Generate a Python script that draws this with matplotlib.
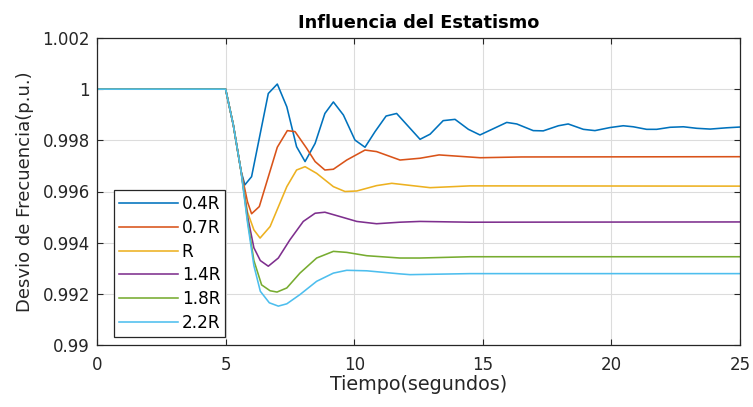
import matplotlib
matplotlib.use("Agg")
import matplotlib.pyplot as plt

plt.rcParams['font.family'] = ['DejaVu Sans']

# Frequency deviation for several droop settings
t_04 = [0, 5.0, 5.3, 5.6, 5.75, 6.01, 6.66, 7.01, 7.38, 7.76, 8.09, 8.48, 8.86, 9.19, 9.58,
        10.03, 10.42, 10.81, 11.24, 11.65, 12.56, 12.95, 13.46, 13.92, 14.44, 14.89, 15.93,
        16.32, 16.96, 17.35, 17.94, 18.32, 18.91, 19.36, 19.95, 20.46, 20.85, 21.37, 21.76,
        22.28, 22.80, 23.32, 23.84, 24.48, 25.0]
f_04 = [1.0, 1.0, 0.9986, 0.9968, 0.99626, 0.99658, 0.99983, 1.0002, 0.99931, 0.99775,
        0.99717, 0.99788, 0.99905, 0.9995, 0.99899, 0.99801, 0.99773, 0.99834, 0.99895,
        0.99905, 0.99804, 0.99824, 0.99877, 0.99882, 0.99843, 0.99821, 0.9987, 0.99864,
        0.99838, 0.99837, 0.99857, 0.99864, 0.99843, 0.99838, 0.9985, 0.99857, 0.99853,
        0.99843, 0.99843, 0.99851, 0.99853, 0.99847, 0.99844, 0.99849, 0.99852]

t_07 = [0, 5.0, 5.3, 5.6, 5.85, 6.01, 6.31, 7.01, 7.40, 7.70, 8.15, 8.48, 8.86, 9.19, 9.71,
        10.42, 10.87, 11.78, 12.56, 13.3, 14.9, 16.5, 25]
f_07 = [1.0, 1.0, 0.9986, 0.9968, 0.9956, 0.99513, 0.99541, 0.99773, 0.99838, 0.99834,
        0.99769, 0.99717, 0.99684, 0.99687, 0.99723, 0.99762, 0.99756, 0.99723, 0.9973,
        0.99743, 0.99732, 0.99735, 0.99736]

t_10 = [0, 5.0, 5.3, 5.6, 5.85, 6.1, 6.34, 6.73, 7.38, 7.76, 8.09, 8.54, 9.19, 9.64, 10.1,
        10.87, 11.46, 12.95, 14.5, 25]
f_10 = [1.0, 1.0, 0.9986, 0.9968, 0.9952, 0.9945, 0.99418, 0.99463, 0.99619, 0.99684,
        0.99697, 0.99671, 0.99619, 0.996, 0.99602, 0.99623, 0.99632, 0.99615, 0.99622, 0.99621]

t_14 = [0, 5.0, 5.3, 5.6, 5.85, 6.1, 6.35, 6.66, 7.05, 7.50, 8.02, 8.48, 8.86, 9.45, 10.1,
        10.87, 11.78, 12.56, 14.5, 25]
f_14 = [1.0, 1.0, 0.9986, 0.9968, 0.99505, 0.9938, 0.9933, 0.99308, 0.9934, 0.99411,
        0.99483, 0.99515, 0.99519, 0.99502, 0.99483, 0.99474, 0.9948, 0.99483, 0.9948, 0.99481]

t_18 = [0, 5.0, 5.3, 5.6, 5.85, 6.1, 6.4, 6.73, 7.0, 7.38, 7.89, 8.54, 9.19, 9.71, 10.49,
        11.78, 12.56, 14.5, 25]
f_18 = [1.0, 1.0, 0.9986, 0.9968, 0.9949, 0.9933, 0.99235, 0.99212, 0.99207, 0.99223,
        0.99281, 0.9934, 0.99366, 0.99362, 0.99349, 0.9934, 0.9934, 0.99345, 0.99345]

t_22 = [0, 5.0, 5.3, 5.6, 5.85, 6.1, 6.35, 6.7, 7.05, 7.38, 7.89, 8.54, 9.19, 9.71, 10.49,
        11.78, 12.17, 14.5, 25]
f_22 = [1.0, 1.0, 0.9986, 0.9968, 0.9948, 0.9931, 0.9921, 0.99165, 0.99152, 0.99161,
        0.99197, 0.99249, 0.99281, 0.99292, 0.9929, 0.99278, 0.99275, 0.99279, 0.99279]

labels = ['0.4R', '0.7R', 'R', '1.4R', '1.8R', '2.2R']
colors = ['#0072BD', '#D95319', '#EDB120', '#7E2F8E', '#77AC30', '#4DBEEE']

x_ticks = [0, 5, 10, 15, 20, 25]
y_ticks = [0.99, 0.992, 0.994, 0.996, 0.998, 1.0, 1.002]
y_tick_labels = ['0.99', '0.992', '0.994', '0.996', '0.998', '1', '1.002']

series = [(t_04, f_04), (t_07, f_07), (t_10, f_10), (t_14, f_14), (t_18, f_18), (t_22, f_22)]

fig = plt.figure(figsize=(7.53, 4.07), dpi=100)
ax = fig.add_axes([97 / 753, 62 / 407, 643 / 753, 307 / 407])

for (t, f), lab, c in zip(series, labels, colors):
    ax.plot(t, f, color=c, lw=1.15, label=lab)

ax.set_xlim(0, 25)
ax.set_ylim(0.99, 1.002)
ax.set_xticks(x_ticks)
ax.set_yticks(y_ticks)
ax.set_yticklabels(y_tick_labels)

ax.grid(True, color='#dcdcdc', lw=0.8)
ax.set_axisbelow(True)
for s in ax.spines.values():
    s.set_color('#262626')
    s.set_linewidth(0.9)
ax.tick_params(direction='in', length=4, width=0.8, colors='#262626',
               labelsize=12, top=True, right=True, pad=5)
ax.tick_params(axis='x', pad=8)

ax.set_title('Influencia del Estatismo', fontsize=12.8, fontweight='bold', pad=7)
ax.set_xlabel('Tiempo(segundos)', fontsize=13.8, color='#262626', labelpad=1)
ax.set_ylabel('Desvio de Frecuencia(p.u.)', fontsize=13, color='#262626', labelpad=6)

leg = ax.legend(loc='lower left', bbox_to_anchor=(0.0264, 0.026), borderaxespad=0,
                fontsize=12.2, frameon=True, fancybox=False, framealpha=1,
                edgecolor='#262626', handlelength=3.5, handletextpad=0.2,
                labelspacing=0.34, borderpad=0.3)
leg.get_frame().set_linewidth(0.9)

fig.savefig('out.png', dpi=100)
